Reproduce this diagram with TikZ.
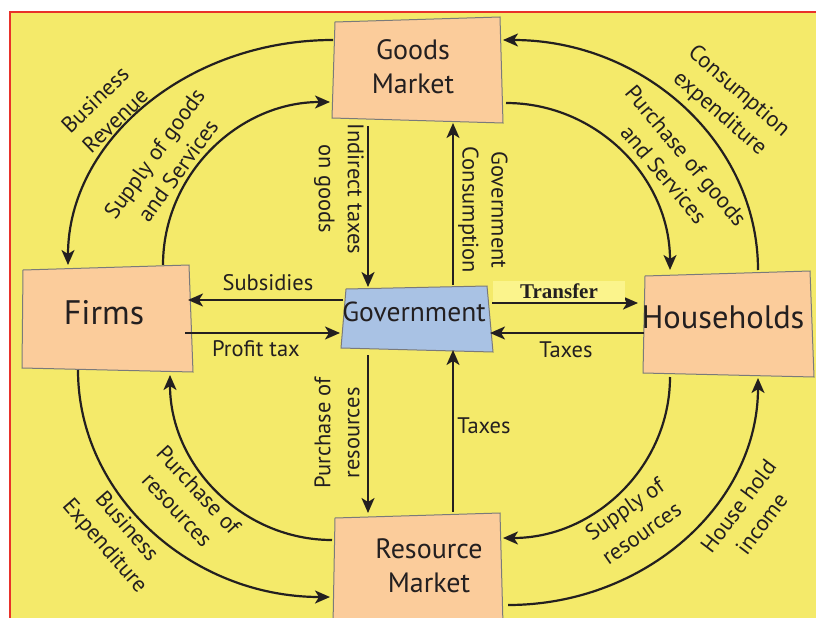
\documentclass[tikz,border=0pt]{standalone}
\usepackage{fontspec}
\setmainfont{PT Sans}
\newfontfamily\tfont{Liberation Serif}
\usetikzlibrary{arrows.meta}
\definecolor{bgyellow}{HTML}{F4EA6A}
\definecolor{peach}{HTML}{FBCC9B}
\definecolor{govblue}{HTML}{A9C2E4}
\definecolor{ink}{HTML}{231F20}
\definecolor{redline}{HTML}{E8322A}
\definecolor{tagyellow}{HTML}{FBF48C}
\definecolor{edge}{HTML}{7A7A7A}
\begin{document}
\begin{tikzpicture}[x=1pt,y=-1pt,
  flow/.style={line width=2.2pt, draw=ink, -{Stealth[length=15pt,width=13pt,inset=4pt]}},
  lbl/.style={text=ink, font=\fontsize{22.5}{29}\selectfont, align=center, inner sep=0pt},
  boxshape/.style={fill=peach, draw=edge, line width=1pt},
  govshape/.style={fill=govblue, draw=edge, line width=1pt},
  boxtext/.style={text=ink, align=center, inner sep=0pt, font=\fontsize{28}{34}\selectfont}]
\useasboundingbox (0,0) rectangle (816,618);
\fill[white] (0,0) rectangle (816,618);
\fill[bgyellow] (10,12) rectangle (816,618);
\draw[redline, line width=1.5pt] (10,618) -- (10,12) -- (816,12);

% boxes
\filldraw[boxshape] (335,22) -- (500,17) -- (503,123) -- (332,118) -- cycle;
\filldraw[boxshape] (23,270) -- (189,265) -- (193,372) -- (22,368) -- cycle;
\filldraw[boxshape] (645,276) -- (810,271) -- (814,377) -- (643,373) -- cycle;
\filldraw[govshape] (346,289) -- (487,286) -- (493,352) -- (341,348) -- cycle;
\filldraw[boxshape] (335,518) -- (500,513) -- (503,625) -- (333,625) -- cycle;

\node[boxtext] (goods) at (413,67) {Goods\\Market};
\node[boxtext, font=\fontsize{34}{36}\selectfont] (firms) at (104,313) {Firms};
\node[boxtext, font=\fontsize{32.5}{36}\selectfont] (house) at (723,317) {Households};
\node[boxtext, font=\fontsize{27.5}{30}\selectfont] (gov) at (414,312) {Government};
\node[boxtext] (res) at (429,566) {Resource\\Market};

% connector end points
\coordinate (gL1) at (333,40);
\coordinate (gL2) at (330,102);
\coordinate (gR1) at (503,40);
\coordinate (gR2) at (506,103);
\coordinate (gB1) at (368,126);
\coordinate (gB2) at (453,123);
\coordinate (fT1) at (68,265);
\coordinate (fT2) at (163,265);
\coordinate (fR1) at (188,300);
\coordinate (fR2) at (185,333);
\coordinate (fB1) at (78,370);
\coordinate (fB2) at (170,375);
\coordinate (hT1) at (670,270);
\coordinate (hT2) at (758,270);
\coordinate (hL1) at (638,303);
\coordinate (hL2) at (644,333);
\coordinate (hB1) at (670,377);
\coordinate (hB2) at (758,378);
\coordinate (vT1) at (368,287);
\coordinate (vT2) at (453,285);
\coordinate (vL1) at (343,300);
\coordinate (vL2) at (340,333);
\coordinate (vR1) at (492,303);
\coordinate (vR2) at (490,333);
\coordinate (vB1) at (368,355);
\coordinate (vB2) at (453,350);
\coordinate (rT1) at (368,513);
\coordinate (rT2) at (453,512);
\coordinate (rL1) at (332,540);
\coordinate (rL2) at (330,597);
\coordinate (rR1) at (503,538);
\coordinate (rR2) at (508,605);

% curved flows
\draw[flow] (gL1) .. controls (187,40) and (68,141) .. (fT1);
\draw[flow] (fT2) .. controls (163,175) and (238,102) .. (gL2);
\draw[flow] (hT2) .. controls (758,143) and (644,40) .. (gR1);
\draw[flow] (gR2) .. controls (597,103) and (670,178) .. (hT1);
\draw[flow] (rL1) .. controls (243,540) and (170,466) .. (fB2);
\draw[flow] (fB1) .. controls (78,495) and (191,597) .. (rL2);
\draw[flow] (hB1) .. controls (670,466) and (595,538) .. (rR1);
\draw[flow] (rR2) .. controls (646,605) and (758,503) .. (hB2);

% straight flows
\draw[flow] (gB1) -- (vT1);
\draw[flow] (vT2) -- (gB2);
\draw[flow] (vL1) -- (fR1);
\draw[flow] (fR2) -- (vL2);
\draw[flow] (vR1) -- (hL1);
\draw[flow] (hL2) -- (vR2);
\draw[flow] (vB1) -- (rT1);
\draw[flow] (rT2) -- (vB2);

% labels
\node[lbl, rotate=44] (l1) at (105,110) {Business\\Revenue};
\node[lbl, rotate=54] (l2) at (166,162) {Supply of goods\\and Services};
\node[lbl, rotate=-41] (l3) at (729,103) {Consumption\\expenditure};
\node[lbl, rotate=-50] (l4) at (675,165) {Purchase of goods\\and Services};
\node[lbl, rotate=-47] (l5) at (188,500) {Purchase of\\resources};
\node[lbl, rotate=-49] (l6) at (115,537) {Business\\Expenditure};
\node[lbl, rotate=35] (l7) at (633,521) {Supply of\\resources};
\node[lbl, rotate=53] (l8) at (750,515) {House hold\\income};
\node[lbl, rotate=-90] (l9) at (339,189) {Indirect taxes\\on goods};
\node[lbl, rotate=-90] (l10) at (483,210) {Government\\Consumption};
\node[lbl, rotate=90] (l11) at (337,433) {Purchase of\\resources};
\node[lbl] (l12) at (484,426) {Taxes};
\node[lbl] (l13) at (268,283) {Subsidies};
\node[lbl] (l14) at (256,349) {Profit tax};
\node[lbl] (l15) at (566,350) {Taxes};
\node[fill=tagyellow, inner sep=0pt, minimum width=132pt, minimum height=21pt,
      text=ink, font=\tfont\bfseries\fontsize{21}{21}\selectfont] (transfer) at (559,291) {Transfer};
\end{tikzpicture}
\end{document}
